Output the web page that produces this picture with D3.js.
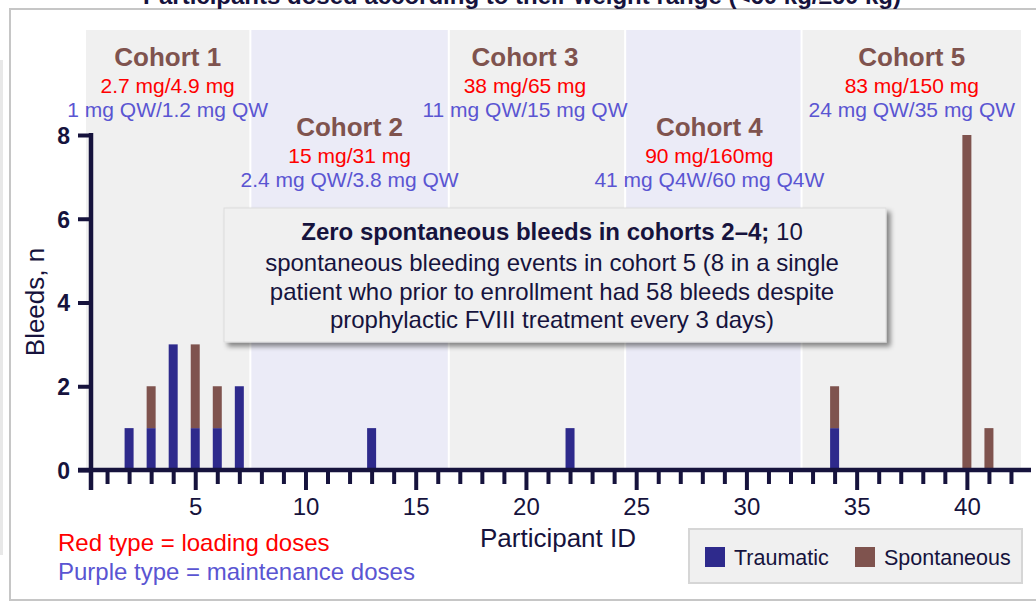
<!DOCTYPE html>
<html>
<head>
<meta charset="utf-8">
<script src="https://cdn.jsdelivr.net/npm/d3@7"></script>
<style>
  body { margin: 0; background: #fff; }
  svg { display: block; font-family: "Liberation Sans", Arial, sans-serif; }
</style>
</head>
<body>
<svg width="1036" height="603"></svg>
<script>
// bleeds per participant
const participants = [2, 3, 4, 5, 6, 7, 13, 22, 34, 40, 41];
const traumatic    = [1, 1, 3, 1, 1, 2, 1, 1, 1, 0, 0];
const spontaneous  = [0, 1, 0, 2, 1, 0, 0, 0, 1, 8, 1];

// cohorts
const cohortNames = ["Cohort 1", "Cohort 2", "Cohort 3", "Cohort 4", "Cohort 5"];
const cohortFrom  = [0, 7.5, 16.5, 24.5, 32.5];
const cohortTo    = [7.5, 16.5, 24.5, 32.5, 42.5];
const loadingDose = ["2.7 mg/4.9 mg", "15 mg/31 mg", "38 mg/65 mg", "90 mg/160mg", "83 mg/150 mg"];
const maintDose   = ["1 mg QW/1.2 mg QW", "2.4 mg QW/3.8 mg QW", "11 mg QW/15 mg QW", "41 mg Q4W/60 mg Q4W", "24 mg QW/35 mg QW"];

const xTicks = d3.range(1, 43);
const yTicks = [0, 2, 4, 6, 8];

const navy = "#16133d";
const cTraum = "#2e2a8c";
const cSpont = "#7f534e";

const svg = d3.select("svg");

const x = d3.scaleLinear().domain([0, 42.5]).range([85, 1022]);
const y = d3.scaleLinear().domain([0, 8]).range([470, 135]);

// drop shadow for the note box
const defs = svg.append("defs");
defs.append("filter").attr("id", "shadow")
  .attr("x", "-5%").attr("y", "-10%").attr("width", "115%").attr("height", "130%")
  .append("feDropShadow")
  .attr("dx", 4).attr("dy", 4).attr("stdDeviation", 2.5)
  .attr("flood-color", "#000").attr("flood-opacity", 0.45);

// outer frame
svg.append("rect").attr("x", 0).attr("y", 60).attr("width", 3).attr("height", 495).attr("fill", "#e8e8e8");
svg.append("rect")
  .attr("x", 10).attr("y", 9).attr("width", 1040).attr("height", 591)
  .attr("fill", "none").attr("stroke", "#c6c6c6").attr("stroke-width", 2);

// title (cut at top, as in the slide)
svg.append("text")
  .attr("x", 522).attr("y", 4)
  .attr("text-anchor", "middle")
  .attr("font-size", 24).attr("font-weight", "bold").attr("fill", navy)
  .text("Participants dosed according to their weight range (<60 kg/≥60 kg)");

// cohort bands
const cohorts = cohortNames.map((name, i) => ({
  name, from: cohortFrom[i], to: cohortTo[i], load: loadingDose[i], maint: maintDose[i], i
}));

svg.append("g").selectAll("rect")
  .data(cohorts)
  .join("rect")
  .attr("x", d => x(d.from) + 1)
  .attr("width", d => x(d.to) - x(d.from) - 2)
  .attr("y", 30)
  .attr("height", y(0) - 30)
  .attr("fill", d => d.i % 2 ? "#ebebf7" : "#f0f0f0");

const labels = svg.append("g").selectAll("g")
  .data(cohorts)
  .join("g")
  .attr("transform", d => `translate(${(x(d.from) + x(d.to)) / 2 - (d.i === 2 ? 12 : d.i === 3 ? 4 : 0)},${d.i % 2 ? 136 : 66})`)
  .attr("text-anchor", "middle");

labels.append("text")
  .attr("font-size", 26).attr("font-weight", "bold").attr("fill", "#7f534e")
  .text(d => d.name);
labels.append("text")
  .attr("y", 27).attr("font-size", 21).attr("fill", "#ff0000")
  .text(d => d.load);
labels.append("text")
  .attr("y", 51).attr("font-size", 21).attr("fill", "#5a55d2")
  .text(d => d.maint);

// bars
const bars = participants.map((id, i) => ({ id, t: traumatic[i], s: spontaneous[i] }));
const bw = 9;
const barG = svg.append("g");
barG.selectAll("rect.t")
  .data(bars.filter(d => d.t > 0))
  .join("rect").attr("class", "t")
  .attr("x", d => x(d.id) - bw / 2).attr("width", bw)
  .attr("y", d => y(d.t)).attr("height", d => y(0) - y(d.t))
  .attr("fill", cTraum);
barG.selectAll("rect.s")
  .data(bars.filter(d => d.s > 0))
  .join("rect").attr("class", "s")
  .attr("x", d => x(d.id) - bw / 2).attr("width", bw)
  .attr("y", d => y(d.t + d.s)).attr("height", d => y(d.t) - y(d.t + d.s))
  .attr("fill", cSpont);

// y axis
const yAxis = svg.append("g")
  .attr("transform", "translate(91,0)")
  .call(d3.axisLeft(y).tickValues(yTicks).tickSize(13).tickPadding(8));
yAxis.select(".domain").remove();
yAxis.selectAll(".tick line").attr("stroke", navy).attr("stroke-width", 4);
yAxis.selectAll(".tick text")
  .attr("font-family", "Liberation Sans, Arial, sans-serif")
  .attr("font-size", 23).attr("font-weight", "bold").attr("fill", navy)
  .attr("dy", "0.36em");
yAxis.append("line")
  .attr("x1", 0).attr("x2", 0).attr("y1", y(8) - 2).attr("y2", 490)
  .attr("stroke", navy).attr("stroke-width", 4.5);

// x axis
const xAxis = svg.append("g")
  .attr("transform", `translate(0,${y(0)})`)
  .call(d3.axisBottom(x).tickValues(xTicks).tickSize(13)
    .tickFormat(d => d % 5 === 0 ? d : ""));
xAxis.select(".domain").remove();
xAxis.selectAll(".tick line")
  .attr("y2", d => d % 5 === 0 ? 20 : 14)
  .attr("stroke", navy).attr("stroke-width", 4);
xAxis.selectAll(".tick text")
  .attr("font-family", "Liberation Sans, Arial, sans-serif")
  .attr("font-size", 24).attr("fill", navy)
  .attr("y", 28).attr("dy", "0.71em");
xAxis.append("line")
  .attr("x1", 78).attr("x2", 1031).attr("y1", 0).attr("y2", 0)
  .attr("stroke", navy).attr("stroke-width", 4.5);

// axis titles
svg.append("text")
  .attr("transform", "translate(44,302) rotate(-90)")
  .attr("text-anchor", "middle")
  .attr("font-size", 26).attr("fill", navy)
  .text("Bleeds, n");
svg.append("text")
  .attr("x", 558).attr("y", 547)
  .attr("text-anchor", "middle")
  .attr("font-size", 26).attr("fill", navy)
  .text("Participant ID");

// note box
const note = svg.append("g");
note.append("rect")
  .attr("x", 224).attr("y", 208).attr("width", 662).attr("height", 134)
  .attr("fill", "#f0f0f0").attr("stroke", "#dcdcdc").attr("stroke-width", 1)
  .attr("filter", "url(#shadow)");
const noteLines = [
  "spontaneous bleeding events in cohort 5 (8 in a single",
  "patient who prior to enrollment had 58 bleeds despite",
  "prophylactic FVIII treatment every 3 days)"
];
const noteText = note.append("text")
  .attr("text-anchor", "middle")
  .attr("font-size", 24).attr("fill", navy);
const first = noteText.append("tspan").attr("x", 552).attr("y", 240);
first.append("tspan").attr("font-weight", "bold").text("Zero spontaneous bleeds in cohorts 2–4;");
first.append("tspan").text(" 10");
noteLines.forEach((line, i) => {
  noteText.append("tspan").attr("x", 552).attr("y", 271 + i * 28.5).text(line);
});

// footnote
svg.append("text").attr("x", 58).attr("y", 551)
  .attr("font-size", 24).attr("fill", "#ff0000")
  .text("Red type = loading doses");
svg.append("text").attr("x", 58).attr("y", 580)
  .attr("font-size", 24).attr("fill", "#5a55d2")
  .text("Purple type = maintenance doses");

// legend
const legend = svg.append("g");
legend.append("rect")
  .attr("x", 689).attr("y", 529).attr("width", 333).attr("height", 54)
  .attr("fill", "#f0f0f0").attr("stroke", "#d6d6d6").attr("stroke-width", 2);
const legendItems = [
  { label: "Traumatic", color: cTraum, x: 705 },
  { label: "Spontaneous", color: cSpont, x: 855 }
];
const li = legend.selectAll("g.item").data(legendItems).join("g")
  .attr("transform", d => `translate(${d.x},547)`);
li.append("rect").attr("width", 20).attr("height", 20).attr("fill", d => d.color);
li.append("text").attr("x", 29).attr("y", 18)
  .attr("font-size", 21.5).attr("fill", navy)
  .text(d => d.label);
</script>
</body>
</html>
